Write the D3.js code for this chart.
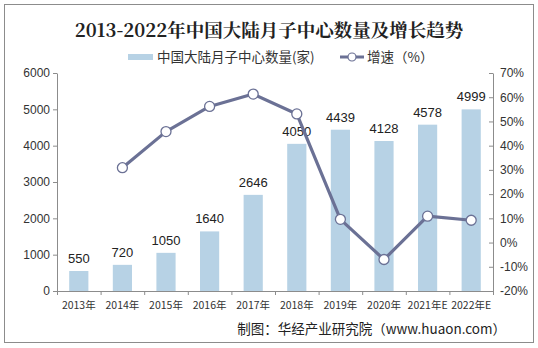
<!DOCTYPE html>
<html><head><meta charset="utf-8">
<script src="https://cdn.jsdelivr.net/npm/d3@7"></script>
<style>body{margin:0;background:#fff}svg{display:block}</style>
</head><body><svg id="c" width="538" height="348"></svg>
<script>
const categories = ["2013年","2014年","2015年","2016年","2017年","2018年","2019年","2020年","2021年E","2022年E"];
const counts = [550,720,1050,1640,2646,4050,4439,4128,4578,4999];
const growth = [null,30.9,45.8,56.2,61.3,53.1,9.6,-7.0,10.9,9.2];
const leftTicks = [0,1000,2000,3000,4000,5000,6000];
const rightTicks = [-20,-10,0,10,20,30,40,50,60,70];

const svg = d3.select("#c");
const m = {l:57, r:493, t:73, b:291};
const font = "Arial, 'Liberation Sans', 'Noto Sans CJK SC', sans-serif";
const cjk = "'Noto Sans CJK SC',sans-serif";

svg.append("rect").attr("x",4.5).attr("y",4.5).attr("width",529).attr("height",338)
  .attr("fill","#fff").attr("stroke","#8c8c8c").attr("stroke-width",1);

svg.append("text").attr("x",269).attr("y",37).attr("text-anchor","middle")
  .attr("font-family","'Noto Serif CJK SC','Noto Sans CJK SC',serif").attr("font-weight","bold")
  .attr("font-size",18.5).attr("fill","#222").text("2013-2022年中国大陆月子中心数量及增长趋势");

const x = d3.scaleBand().domain(categories).range([m.l,m.r]).paddingInner(0.56).paddingOuter(0.28);
const y = d3.scaleLinear().domain([0,6000]).range([m.b,m.t]);
const y2 = d3.scaleLinear().domain([-20,70]).range([m.b,m.t]);

// legend
const lg = svg.append("g").attr("font-size",13.5).attr("fill","#333");
lg.append("rect").attr("x",128).attr("y",54).attr("width",25).attr("height",6).attr("fill","#b7d2e5");
lg.append("text").attr("x",157).attr("y",62).attr("font-family",cjk).text("中国大陆月子中心数量(家)");
lg.append("line").attr("x1",340).attr("x2",364).attr("y1",57).attr("y2",57).attr("stroke","#6b7195").attr("stroke-width",3);
lg.append("circle").attr("cx",352).attr("cy",57).attr("r",4).attr("fill","#fff").attr("stroke","#6b7195").attr("stroke-width",1.2);
lg.append("text").attr("x",367).attr("y",62).attr("font-family",cjk).text("增速（%）");

// bars
svg.append("g").selectAll("rect").data(counts).join("rect")
  .attr("x",(d,i)=>x(categories[i])).attr("width",x.bandwidth())
  .attr("y",d=>y(d)).attr("height",d=>y(0)-y(d)).attr("fill","#b7d2e5");

// axes
const axL = svg.append("g").attr("transform",`translate(${m.l},0)`)
  .call(d3.axisLeft(y).tickValues(leftTicks).tickSize(4).tickPadding(3).tickFormat(d3.format("d")).tickSizeOuter(0));
const axR = svg.append("g").attr("transform",`translate(${m.r},0)`)
  .call(d3.axisRight(y2).tickValues(rightTicks).tickSize(-4).tickPadding(7).tickFormat(d=>d+"%").tickSizeOuter(0));
const xb = d3.scaleLinear().domain([0,categories.length]).range([m.l,m.r]);
const axB = svg.append("g").attr("transform",`translate(0,${m.b})`)
  .call(d3.axisBottom(xb).tickValues(d3.range(0,categories.length+1)).tickSize(4).tickFormat("").tickSizeOuter(0));
[axL,axR,axB].forEach(a=>{
  a.selectAll("path,line").attr("stroke","#8c8c8c");
  a.selectAll("text").attr("font-family",font).attr("font-size",12).attr("fill","#333");
});
svg.append("g").selectAll("text").data(categories).join("text")
  .attr("x",d=>x(d)+x.bandwidth()/2).attr("y",309).attr("text-anchor","middle")
  .attr("font-family",cjk).attr("font-size",10.5).attr("fill","#333").text(d=>d);

// value labels
svg.append("g").selectAll("text").data(counts).join("text")
  .attr("x",(d,i)=>x(categories[i])+x.bandwidth()/2).attr("y",d=>y(d)-8).attr("text-anchor","middle")
  .attr("font-family",font).attr("font-size",13).attr("fill","#222").text(d=>d);

// line
const pts = growth.map((g,i)=>({g,c:categories[i]})).filter(d=>d.g!==null);
svg.append("path").datum(pts)
  .attr("d",d3.line().x(d=>x(d.c)+x.bandwidth()/2).y(d=>y2(d.g)))
  .attr("fill","none").attr("stroke","#6b7195").attr("stroke-width",3.2).attr("stroke-linejoin","round");
svg.append("g").selectAll("circle").data(pts).join("circle")
  .attr("cx",d=>x(d.c)+x.bandwidth()/2).attr("cy",d=>y2(d.g)).attr("r",5)
  .attr("fill","#fff").attr("stroke","#6b7195").attr("stroke-width",1.3);

// source
svg.append("text").attr("x",506).attr("y",334).attr("text-anchor","end")
  .attr("font-family",cjk).attr("font-size",13.5).attr("fill","#222")
  .text("制图：华经产业研究院（www.huaon.com）");
</script></body></html>
